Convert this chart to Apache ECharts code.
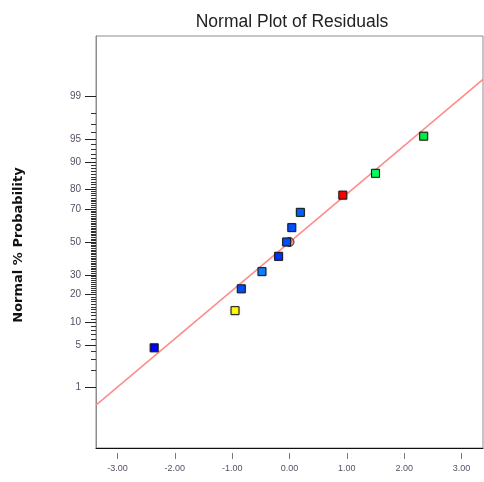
<!DOCTYPE html>
<html>
<head>
<meta charset="utf-8">
<script src="https://cdn.jsdelivr.net/npm/echarts@6/dist/echarts.min.js"></script>
<style>html,body{margin:0;padding:0;background:#fff;}#c{width:484px;height:482px;}</style>
</head>
<body>
<div id="c"></div>
<script>
// ---- data ----
var residuals = [-2.36, -0.95, -0.84, -0.48, -0.19, -0.05, 0.04, 0.19, 0.93, 1.50, 2.34];
var probabilities = [4.55, 13.64, 22.73, 31.82, 40.91, 50, 59.09, 68.18, 77.27, 86.36, 95.45];
var pointColors = ['#0000ff', '#ffff00', '#0050ff', '#1080ff', '#0030ff', '#0050ff', '#0050ff', '#0060ff', '#ff0000', '#00ff60', '#00ee44'];
var fitX = [-3.375, 3.375];
var fitP = [0.46, 99.53];
var centerPoint = [0, 50];
var xTicks = [-3, -2, -1, 0, 1, 2, 3];
var yLabelTicks = [1, 5, 10, 20, 30, 50, 70, 80, 90, 95, 99];
var yMinorTicks = [];
for (var k = 1; k <= 99; k++) yMinorTicks.push(k);
var pRange = [0.05, 99.95];
var titleText = 'Normal Plot of Residuals';
var yName = 'Normal % Probability';

// inverse normal CDF (probability scale transform)
function probit(pct) {
  var p = pct / 100;
  var a = [-3.969683028665376e+01, 2.209460984245205e+02, -2.759285104469687e+02, 1.383577518672690e+02, -3.066479806614716e+01, 2.506628277459239e+00];
  var b = [-5.447609879822406e+01, 1.615858368580409e+02, -1.556989798598866e+02, 6.680131188771972e+01, -1.328068155288572e+01];
  var c = [-7.784894002430293e-03, -3.223964580411365e-01, -2.400758277161838e+00, -2.549732539343734e+00, 4.374664141464968e+00, 2.938163982698783e+00];
  var d = [7.784695709041462e-03, 3.224671290700398e-01, 2.445134137142996e+00, 3.754408661907416e+00];
  var pl = 0.02425, q, r;
  if (p < pl) {
    q = Math.sqrt(-2 * Math.log(p));
    return (((((c[0]*q+c[1])*q+c[2])*q+c[3])*q+c[4])*q+c[5]) / ((((d[0]*q+d[1])*q+d[2])*q+d[3])*q+1);
  } else if (p <= 1 - pl) {
    q = p - 0.5; r = q*q;
    return (((((a[0]*r+a[1])*r+a[2])*r+a[3])*r+a[4])*r+a[5])*q / (((((b[0]*r+b[1])*r+b[2])*r+b[3])*r+b[4])*r+1);
  } else {
    q = Math.sqrt(-2 * Math.log(1 - p));
    return -(((((c[0]*q+c[1])*q+c[2])*q+c[3])*q+c[4])*q+c[5]) / ((((d[0]*q+d[1])*q+d[2])*q+d[3])*q+1);
  }
}

var zMin = probit(pRange[0]), zMax = probit(pRange[1]);
var majorZ = yLabelTicks.map(probit);
var minorZ = yMinorTicks.map(probit);

var pts = residuals.map(function (x, i) {
  return { value: [x, probit(probabilities[i])], itemStyle: { color: pointColors[i] } };
});
var fitData = fitX.map(function (x, i) { return [x, probit(fitP[i])]; });

var sans = '"Liberation Sans", Arial, sans-serif';
var labelColor = '#5a4e66';

var chart = echarts.init(document.getElementById('c'), null, { renderer: 'canvas' });
chart.setOption({
  animation: false,
  backgroundColor: '#ffffff',
  title: {
    text: titleText, left: 287, top: 8, textAlign: 'center',
    textStyle: { fontFamily: sans, fontSize: 17.5, fontWeight: 'normal', color: '#222' }
  },
  graphic: [{
    type: 'text', x: 19, y: 245, rotation: Math.PI / 2,
    style: { text: yName, fontFamily: '"DejaVu Sans", sans-serif', fontWeight: 'bold', fontSize: 13,
             fill: '#111', textAlign: 'center', textVerticalAlign: 'middle' }
  }],
  grid: { left: 96, right: 1, top: 36, bottom: 34, show: true, borderColor: '#8c8c8c', borderWidth: 1, backgroundColor: '#fff' },
  xAxis: [{
    type: 'value', min: fitX[0], max: fitX[1], position: 'bottom',
    axisLine: { show: true, onZero: false, lineStyle: { color: '#111', width: 1 } },
    axisTick: { show: false }, axisLabel: { show: false }, splitLine: { show: false }
  }, {
    type: 'value', min: fitX[0], max: fitX[1], position: 'bottom', offset: 5,
    axisLine: { show: false, onZero: false },
    axisTick: { show: true, length: 6, customValues: xTicks, lineStyle: { color: '#777' } },
    axisLabel: { show: true, customValues: xTicks, margin: 11, fontFamily: sans, fontSize: 9, color: labelColor,
                 formatter: function (v) { return v.toFixed(2); } },
    splitLine: { show: false }
  }],
  yAxis: [{
    type: 'value', min: zMin, max: zMax, position: 'left',
    axisLine: { show: true, onZero: false, lineStyle: { color: '#8c8c8c' } },
    axisTick: { show: true, length: 5, customValues: minorZ, lineStyle: { color: '#333' } },
    axisLabel: { show: false }, splitLine: { show: false }
  }, {
    type: 'value', min: zMin, max: zMax, position: 'left', offset: 0,
    axisLine: { show: false, onZero: false },
    axisTick: { show: true, length: 11, customValues: majorZ, lineStyle: { color: '#222' } },
    axisLabel: { show: true, customValues: majorZ, margin: 15, fontFamily: sans, fontSize: 10, color: labelColor,
                 formatter: function (v) {
                   var best = 0, bd = 1e9;
                   for (var i = 0; i < majorZ.length; i++) { var dd = Math.abs(majorZ[i] - v); if (dd < bd) { bd = dd; best = i; } }
                   return String(yLabelTicks[best]);
                 } },
    splitLine: { show: false }
  }],
  series: [{
    type: 'line', data: fitData, xAxisIndex: 0, yAxisIndex: 0, symbol: 'none',
    lineStyle: { color: '#ff8a8a', width: 1.5 }, z: 2, silent: true
  }, {
    type: 'scatter', data: [[centerPoint[0], probit(centerPoint[1])]], xAxisIndex: 0, yAxisIndex: 0,
    symbol: 'circle', symbolSize: 9,
    itemStyle: { color: 'rgba(190,90,90,0.55)', borderColor: '#5a2020', borderWidth: 1, opacity: 1 }, z: 3
  }, {
    type: 'scatter', data: pts, xAxisIndex: 0, yAxisIndex: 0,
    symbol: 'rect', symbolSize: 8,
    itemStyle: { borderColor: '#1a1a1a', borderWidth: 1, opacity: 1, shadowColor: 'rgba(0,0,0,0.3)', shadowBlur: 1.5 }, z: 4
  }]
});
</script>
</body>
</html>
